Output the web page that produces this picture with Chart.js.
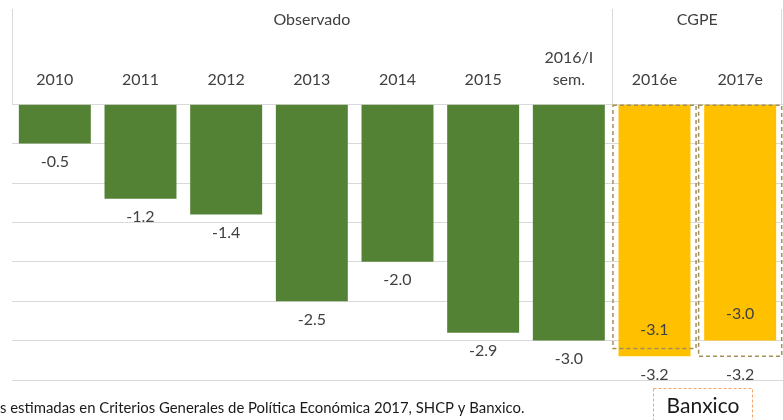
<!DOCTYPE html>
<html>
<head>
<meta charset="utf-8">
<script src="https://cdn.jsdelivr.net/npm/chart.js@4/dist/chart.umd.min.js"></script>
<style>
  html, body { margin: 0; padding: 0; background: #ffffff; }
  #wrap { width: 783px; height: 420px; position: relative; }
</style>
</head>
<body>
<div id="wrap"><canvas id="c" width="783" height="420"></canvas></div>
<script>
// ---- data ----
const categories = ['2010', '2011', '2012', '2013', '2014', '2015', ['2016/I', 'sem.'], '2016e', '2017e'];
const observed   = [-0.5, -1.2, -1.4, -2.5, -2.0, -2.9, -3.0, null, null];
const estimateBars = [null, null, null, null, null, null, null, -3.2, -3.0];
const cgpeValues   = [null, null, null, null, null, null, null, -3.1, -3.0];
const banxicoValues = [null, null, null, null, null, null, null, -3.2, -3.2];
const dashedBoxValues = [null, null, null, null, null, null, null, -3.1, -3.2];
const groupLabels = ['Observado', 'CGPE'];
const groupStart = [0, 7];
const groupEnd = [6, 8];
const yTickMin = -3.5, yTickMax = 0, yStep = 0.5;
const footnote = 's estimadas en Criterios Generales de Política Económica 2017, SHCP y Banxico.';
const boxLabel = 'Banxico';

const FONT = 'Lato';
const TEXT = '#404040';
const GREEN = '#548235';
const GOLD = '#FFC000';
const GRID = '#D9D9D9';

function fmt(v) { return v.toFixed(1); }

const overlay = {
  id: 'overlay',
  afterDatasetsDraw(chart) {
    const ctx = chart.ctx;
    const xs = chart.scales.x, ys = chart.scales.y;
    const catW = xs.getPixelForValue(1) - xs.getPixelForValue(0);
    ctx.save();
    // dashed boxes
    ctx.strokeStyle = '#A38F58';
    ctx.lineWidth = 1.5;
    ctx.setLineDash([4, 3]);
    dashedBoxValues.forEach((v, i) => {
      if (v === null) return;
      const cx = xs.getPixelForValue(i);
      const hw = catW * 0.485;
      const y0 = ys.getPixelForValue(0) + 1;
      const y1 = ys.getPixelForValue(v);
      ctx.strokeRect(cx - hw, y0, hw * 2, y1 - y0);
    });
    ctx.setLineDash([]);
    // value labels
    ctx.fillStyle = TEXT;
    ctx.font = '16px ' + FONT;
    ctx.textAlign = 'center';
    ctx.textBaseline = 'middle';
    observed.forEach((v, i) => {
      if (v === null) return;
      ctx.fillText(fmt(v), xs.getPixelForValue(i), ys.getPixelForValue(v) + 18.5);
    });
    cgpeValues.forEach((v, i) => {
      if (v === null) return;
      ctx.fillText(fmt(v), xs.getPixelForValue(i), ys.getPixelForValue(estimateBars[i]) - 27);
    });
    banxicoValues.forEach((v, i) => {
      if (v === null) return;
      const low = Math.min(estimateBars[i], dashedBoxValues[i]);
      ctx.fillText(fmt(v), xs.getPixelForValue(i), ys.getPixelForValue(low) + 18.5);
    });
    ctx.restore();
  },
  afterDraw(chart) {
    const ctx = chart.ctx;
    const xs = chart.scales.x;
    const area = chart.chartArea;
    ctx.save();
    // header frame
    ctx.strokeStyle = GRID;
    ctx.lineWidth = 1;
    const topY = 9;
    const sep = (xs.getPixelForValue(6) + xs.getPixelForValue(7)) / 2;
    [area.left + 0.5, Math.round(sep) + 0.5, area.right - 1.5].forEach(px => {
      ctx.beginPath();
      ctx.moveTo(px, topY);
      ctx.lineTo(px, area.top);
      ctx.stroke();
    });
    // group labels
    ctx.fillStyle = TEXT;
    ctx.font = '16px ' + FONT;
    ctx.textAlign = 'center';
    ctx.textBaseline = 'middle';
    groupLabels.forEach((t, k) => {
      const cx = (xs.getPixelForValue(groupStart[k]) + xs.getPixelForValue(groupEnd[k])) / 2;
      ctx.fillText(t, cx, 20);
    });
    // footnote
    ctx.fillStyle = '#1a1a1a';
    ctx.textAlign = 'left';
    ctx.textBaseline = 'alphabetic';
    let fs = 15;
    ctx.font = fs + 'px ' + FONT;
    const w = ctx.measureText(footnote).width;
    fs = fs * 525 / w;
    ctx.font = fs.toFixed(2) + 'px ' + FONT;
    ctx.fillText(footnote, 0, 413);
    // Banxico box
    ctx.strokeStyle = '#F4A46C';
    ctx.lineWidth = 1;
    ctx.setLineDash([3, 2]);
    ctx.strokeRect(653.5, 388.5, 99, 40);
    ctx.setLineDash([]);
    ctx.fillStyle = '#1a1a1a';
    ctx.font = '21px ' + FONT;
    ctx.textAlign = 'center';
    ctx.fillText(boxLabel, 703, 413);
    ctx.restore();
  }
};

new Chart(document.getElementById('c'), {
  type: 'bar',
  data: {
    labels: categories,
    datasets: [
      { label: 'Observado', data: observed, backgroundColor: GREEN, grouped: false,
        barPercentage: 0.84, categoryPercentage: 1.0 },
      { label: 'Estimado', data: estimateBars, backgroundColor: GOLD, grouped: false,
        barPercentage: 0.84, categoryPercentage: 1.0 }
    ]
  },
  options: {
    responsive: false,
    animation: false,
    devicePixelRatio: 1,
    layout: { padding: { top: 33, left: 12, right: 0, bottom: 40 } },
    plugins: { legend: { display: false }, tooltip: { enabled: false } },
    scales: {
      x: {
        position: 'top',
        grid: { display: false, drawTicks: false },
        border: { display: false },
        ticks: { color: TEXT, font: { family: FONT, size: 16, lineHeight: 1.35 }, padding: 14, maxRotation: 0, autoSkip: false }
      },
      y: {
        min: yTickMin, max: yTickMax,
        grid: { color: GRID, lineWidth: 1, drawTicks: false, tickLength: 0 },
        border: { display: false },
        ticks: { display: false, stepSize: yStep }
      }
    }
  },
  plugins: [overlay]
});
</script>
</body>
</html>
